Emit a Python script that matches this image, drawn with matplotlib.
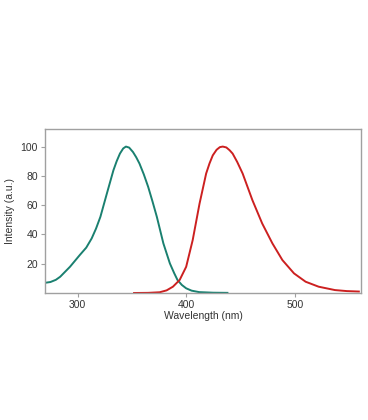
import matplotlib
matplotlib.use("Agg")
import matplotlib.pyplot as plt
import numpy as np

# Absorptionsspektrum (teal)
abs_x = [270.4, 275, 280, 284, 293, 302, 308, 313, 317, 321, 327, 333, 336, 339, 342,
         344.5, 347.5, 351, 354, 357, 361, 365, 369, 373, 379, 385, 389, 392, 396,
         400, 405, 412, 425, 438]
abs_y = [7.0, 7.5, 9.0, 11.1, 17.9, 25.9, 31, 37.3, 44, 52, 68, 83.8, 90, 95.2, 98.7,
         100, 99.3, 96.3, 92.7, 88.4, 81, 72.5, 62.5, 52, 33.9, 20.2, 13.5, 8.9, 5.5,
         3.2, 1.6, 0.6, 0.2, 0.1]

# Emissionsspektrum (rød)
em_x = [352, 365, 375.6, 382, 387.8, 394, 400, 406, 412.3, 418.4, 421.5, 424.5, 428, 431,
        433.7, 437, 440, 442.8, 447, 452, 461, 470, 479.4, 488.6, 499.3, 510, 522, 537,
        548, 559]
em_y = [0.0, 0.1, 0.5, 1.8, 4.3, 8.9, 17.9, 36.1, 61, 81.6, 88.5, 94, 97.8, 99.6,
        100, 99.4, 97.5, 95.2, 89.5, 81.6, 63.4, 47.5, 33.9, 22.5, 13.4, 7.7, 4.3, 2.0,
        1.3, 1.0]

plt.rcParams['font.family'] = ['Liberation Sans', 'DejaVu Sans']

fig = plt.figure(figsize=(3.68, 4.2), dpi=100)
ax = fig.add_axes([45 / 368, 1 - 293 / 420, (361 - 45) / 368, (293 - 129) / 420])

ax.plot(abs_x, abs_y, color="#1a8070", lw=1.4, solid_joinstyle="round")
ax.plot(em_x, em_y, color="#cc2020", lw=1.4, solid_joinstyle="round")

ax.set_xlim(270, 561)
ax.set_ylim(0, 112)
ax.set_xticks([300, 400, 500])
ax.set_yticks([20, 40, 60, 80, 100])

for s in ax.spines.values():
    s.set_color("#a0a0a0")
    s.set_linewidth(1.0)
ax.tick_params(direction="out", length=3, width=0.8, color="#a0a0a0",
               labelsize=7.5, labelcolor="#333333", pad=2)

ax.set_xlabel("Wavelength (nm)", fontsize=7.5, color="#333333", labelpad=1)
ax.set_ylabel("Intensity (a.u.)", fontsize=7.5, color="#333333", labelpad=4)

fig.savefig("out.png", dpi=100)
